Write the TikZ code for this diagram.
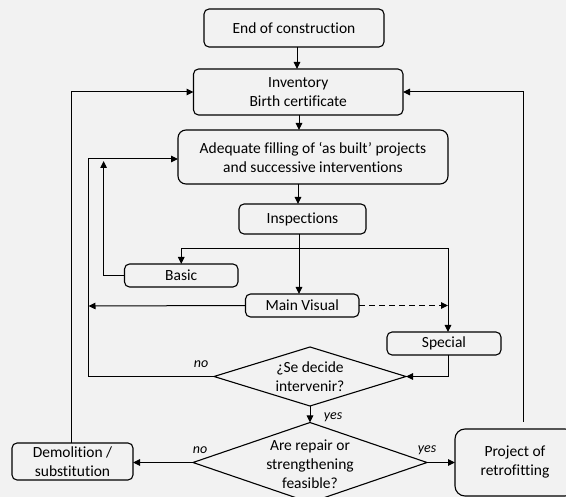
\documentclass[tikz,border=0pt]{standalone}
\usepackage{fontspec}
\setmainfont{Carlito}[Ligatures=NoCommon]
\usetikzlibrary{arrows.meta,shapes.geometric}
\definecolor{bg}{HTML}{F2F2F2}
\begin{document}
\begin{tikzpicture}[x=1pt,y=-1pt,
  box/.style={draw, line width=1.1pt, rounded corners=5pt, inner sep=0pt, outer sep=0pt, align=center, font=\fontsize{15.5}{19}\selectfont},
  dia/.style={draw, diamond, line width=1.1pt, inner sep=0pt, outer sep=0pt},
  txt/.style={align=center, font=\fontsize{15.5}{19}\selectfont, inner sep=0pt},
  lab/.style={font=\fontsize{14}{16}\selectfont\itshape, inner sep=0pt},
  arr/.style={line width=1pt, -{Triangle[length=7pt,width=6.5pt]}}]
\useasboundingbox (0,0) rectangle (566,497);
\fill[bg] (0,0) rectangle (566,497);
\clip (0,0) rectangle (566,497);

% boxes
\node[box, minimum width=180pt, minimum height=38pt] (end) at (294,28) {End of construction};
\node[box, minimum width=209.5pt, minimum height=46pt] (inv) at (298.25,92) {Inventory\\Birth certificate};
\node[box, rounded corners=8pt, minimum width=270pt, minimum height=54pt] (adq) at (313,157) {Adequate filling of ‘as built’ projects\\and successive interventions};
\node[box, minimum width=127pt, minimum height=30pt] (insp) at (302.5,219) {Inspections};
\node[box, minimum width=113.5pt, minimum height=23pt] (basic) at (181.25,275.5) {Basic};
\node[box, minimum width=113.5pt, minimum height=23pt] (mv) at (302.25,305.5) {Main Visual};
\node[box, minimum width=114pt, minimum height=23pt] (spec) at (444,343.5) {Special};
\node[box, minimum width=121pt, minimum height=37pt] (dem) at (72.5,461.5) {Demolition /\\substitution};
\node[box, rounded corners=10pt, minimum width=120pt, minimum height=67pt] (proj) at (515,462.5) {Project of\\retrofitting};

% diamonds
\node[dia, minimum width=192pt, minimum height=59pt] (d1) at (310,376.5) {};
\node[txt] (d1t) at (310,377) {¿Se decide\\intervenir?};
\node[dia, minimum width=234pt, minimum height=80pt] (d2) at (310,462.5) {};
\node[txt] (d2t) at (310,464) {Are repair or\\strengthening\\feasible?};

% labels
\node[lab] (no1) at (201,364) {no};
\node[lab] (yes1) at (333,417) {yes};
\node[lab] (no2) at (200,450) {no};
\node[lab] (yes2) at (427,450) {yes};

% helper coordinates
\coordinate (sp) at (299,249);
\coordinate (spx) at (448,249);
\coordinate (L1) at (88.5,159);
\coordinate (L2) at (103.6,161);
\coordinate (mvL) at (88.5,306);

% connectors
\draw[arr] (end.south -| 297,0) -- (inv.north -| 297,0);
\draw[arr] (inv.south -| 299,0) -- (adq.north -| 299,0);
\draw[arr] (adq.south -| 298,0) -- (insp.north -| 298,0);
\draw[arr] (insp.south -| sp) -- (mv.north -| sp);
\draw[arr] (sp) -| (basic.north);
\draw[arr] (sp) -- (spx) -- (spec.north -| spx);
\draw[arr, dash pattern=on 6pt off 4pt] (mv.east) -- (mv.east -| spx);
\draw[arr] (mv.west) -- (mvL);
\draw[arr] (spec.south -| spx) |- (d1.east);
\draw[arr] (d1.west) -| (L1) -- (adq.west |- L1);
\draw[arr] (basic.west) -| (L2);
\draw[arr] (d1.south) -- (d2.north);
\draw[arr] (d2.west) -- (dem.east |- d2.west);
\draw[arr] (d2.east) -- (proj.west |- d2.east);
\draw[arr] (dem.north -| 71,0) |- (inv.west);
\draw[arr] ([shift={(8pt,7pt)}]proj.north) |- (inv.east);
\end{tikzpicture}
\end{document}
